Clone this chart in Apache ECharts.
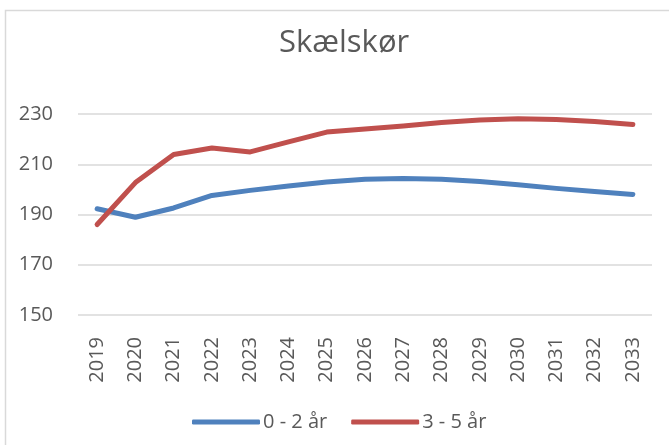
<!DOCTYPE html>
<html>
<head>
<meta charset="utf-8">
<script src="https://cdn.jsdelivr.net/npm/echarts@6/dist/echarts.min.js"></script>
<style>
  html, body { margin: 0; padding: 0; background: #fff; }
  #chart { width: 669px; height: 445px; }
</style>
</head>
<body>
<div id="chart"></div>
<script>
// data
const years = ["2019", "2020", "2021", "2022", "2023", "2024", "2025", "2026",
  "2027", "2028", "2029", "2030", "2031", "2032", "2033"];
const age0to2 = [192.3, 188.9, 192.6, 197.6, 199.6, 201.3, 202.9, 204.0,
  204.3, 204.0, 203.1, 201.8, 200.4, 199.2, 198.0];
const age3to5 = [186.0, 202.7, 213.9, 216.5, 214.9, 218.9, 222.8, 224.0,
  225.2, 226.6, 227.6, 228.1, 227.8, 227.0, 225.8];
const yTicks = { min: 150, max: 230, step: 20 };

const myChart = echarts.init(document.getElementById("chart"));

const textColor = "#595959";
const font = "'Open Sans', 'Noto Sans', sans-serif";

myChart.setOption({
  animation: false,
  // outer chart border (only top and left show in the crop)
  graphic: [
    {
      type: "rect",
      shape: { x: 5.5, y: 10.5, width: 700, height: 500 },
      style: { fill: "none", stroke: "#d9d9d9", lineWidth: 1.5 },
      silent: true,
    },
  ],
  title: {
    text: "Skælskør",
    left: 274,
    top: 23,
    textStyle: {
      color: textColor,
      fontSize: 31,
      fontWeight: "normal",
      fontFamily: font,
    },
  },
  legend: {
    bottom: 8,
    left: 187,
    icon: "roundRect",
    itemWidth: 68,
    itemHeight: 5,
    itemGap: 24,
    textStyle: { color: textColor, fontSize: 20, fontFamily: font, padding: [0, 0, 0, -2] },
    data: ["0 - 2 år", "3 - 5 år"],
  },
  grid: {
    left: 78,
    right: 17,
    top: 114,
    bottom: 130,
  },
  xAxis: {
    type: "category",
    data: years,
    boundaryGap: true,
    axisLine: { show: false },
    axisTick: { show: false },
    axisLabel: {
      rotate: 90,
      margin: 22,
      color: textColor,
      fontSize: 20,
      fontFamily: font,
    },
  },
  yAxis: {
    type: "value",
    min: yTicks.min,
    max: yTicks.max,
    interval: yTicks.step,
    axisLine: { show: false },
    axisTick: { show: false },
    axisLabel: {
      margin: 25,
      color: textColor,
      fontSize: 20,
      fontFamily: font,
    },
    splitLine: { lineStyle: { color: "#d9d9d9", width: 1.5 } },
  },
  series: [
    {
      name: "0 - 2 år",
      type: "line",
      data: age0to2,
      showSymbol: false,
      symbol: "none",
      lineStyle: { color: "#4f81bd", width: 5, cap: "round", join: "round" },
      itemStyle: { color: "#4f81bd" },
    },
    {
      name: "3 - 5 år",
      type: "line",
      data: age3to5,
      showSymbol: false,
      symbol: "none",
      lineStyle: { color: "#c0504d", width: 5, cap: "round", join: "round" },
      itemStyle: { color: "#c0504d" },
    },
  ],
});
</script>
</body>
</html>
